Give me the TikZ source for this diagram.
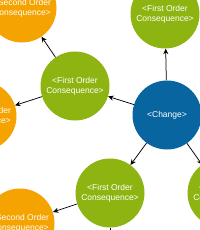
\documentclass[tikz,border=0pt]{standalone}
\usepackage{fontspec}
\setmainfont{Liberation Sans}
\usetikzlibrary{arrows.meta}
\definecolor{changeblue}{RGB}{8,101,160}
\definecolor{firstgreen}{RGB}{142,180,18}
\definecolor{secondorange}{RGB}{245,163,0}

\begin{document}
\begin{tikzpicture}[x=1pt,y=-1pt,
    bubble/.style={circle,minimum size=69pt,inner sep=0pt,text=white,align=center,
        font=\fontsize{8.5}{10}\selectfont},
    change/.style={bubble,fill=changeblue},
    first/.style={bubble,fill=firstgreen},
    second/.style={bubble,fill=secondorange},
    link/.style={-{Stealth[length=5.5pt,width=5pt]},line width=0.75pt}]
    \useasboundingbox (0,0) rectangle (200,230);
    \clip (0,0) rectangle (200,230);

    \node[change] (C) at (167,115) {<Change>};

    \node[first] (F1) at (165,14) {<First Order\\Consequence>};
    \node[first] (F2) at (75,86) {<First Order\\Consequence>};
    \node[first] (F3) at (110,193) {<First Order\\Consequence>};
    \node[first] (F4) at (222,193) {<First Order\\Consequence>};

    \node[second] (S1) at (22,8) {<Second Order\\Consequence>};
    \node[second] (S2) at (-18,116) {<Second Order\\Consequence>};
    \node[second] (S3) at (20,223) {<Second Order\\Consequence>};
    \coordinate (S4) at (110,290);

    \draw[link] (C) -- (F1);
    \draw[link] (C) -- (F2);
    \draw[link] (C) -- (F3);
    \draw[link] (C) -- (F4);
    \draw[link] (F2) -- (S1);
    \draw[link] (F2) -- (S2);
    \draw[link] (F3) -- (S3);
    \draw[link] (F3) -- (S4);
\end{tikzpicture}
\end{document}
